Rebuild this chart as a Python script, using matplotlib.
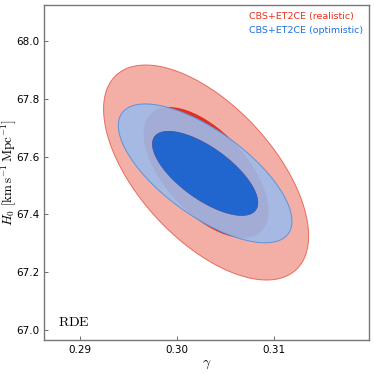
import numpy as np
import matplotlib
matplotlib.use('Agg')
import matplotlib.pyplot as plt

plt.rcParams['mathtext.fontset'] = 'cm'

# Gaussian approximations of the two posteriors (gamma, H0)
labels = ['CBS+ET2CE (realistic)', 'CBS+ET2CE (optimistic)']
centers = [(0.3030, 67.545), (0.3029, 67.542)]
sigmas = [(0.00425, 0.1497), (0.00360, 0.0967)]
corrs = [-0.59, -0.69]

# 68% and 95% levels for 2 parameters (delta chi2)
levels = [0.0, 2.30, 6.18]

inner_cols = ['#e0301e', '#2166cf']
outer_cols = ['#f3aea6', '#9dbbe9']
outer_alpha = [1.0, 0.9]
edges = ['#ea6a5c', '#5b93df']
text_cols = ['#e8301e', '#1f70e0']

xticks = [0.29, 0.30, 0.31]
yticks = [67.0, 67.2, 67.4, 67.6, 67.8, 68.0]

fig = plt.figure(figsize=(3.74, 3.74), dpi=100)
ax = fig.add_axes([0.1176, 0.0909, 0.869, 0.8957])

gx = np.linspace(0.285, 0.321, 700)
gy = np.linspace(66.95, 68.15, 700)
X, Y = np.meshgrid(gx, gy)

for i in range(2):
    cx, cy = centers[i]
    sx, sy = sigmas[i]
    r = corrs[i]
    dx = (X - cx) / sx
    dy = (Y - cy) / sy
    chi2 = (dx**2 - 2 * r * dx * dy + dy**2) / (1 - r**2)
    ax.contourf(X, Y, chi2, levels=levels[1:], colors=[outer_cols[i]],
                alpha=outer_alpha[i], antialiased=True)
    ax.contourf(X, Y, chi2, levels=levels[:2], colors=[inner_cols[i]], antialiased=True)
    ax.contour(X, Y, chi2, levels=[levels[2]], colors=edges[i], linewidths=0.7)

ax.set_xlim(0.28629, 0.31979)
ax.set_ylim(66.965, 68.125)
ax.set_xticks(xticks)
ax.set_xticklabels(['%.2f' % v for v in xticks])
ax.set_yticks(yticks)
ax.set_yticklabels(['%.1f' % v for v in yticks])
ax.tick_params(direction='in', labelsize=7.5, length=3, width=0.6, color='#555555')
for s in ax.spines.values():
    s.set_color('#777777')
    s.set_linewidth(1.0)

ax.set_xlabel(r'$\gamma$', fontsize=10)
ax.set_ylabel(r'$H_0\ [\mathrm{km\,s^{-1}\,Mpc^{-1}}]$', fontsize=9.5)
ax.xaxis.set_label_coords(0.5, -0.05)
ax.yaxis.set_label_coords(-0.08, 0.5)

ax.text(0.631, 0.965, labels[0], color=text_cols[0], fontsize=6.8, transform=ax.transAxes, va='center', ha='left')
ax.text(0.631, 0.923, labels[1], color=text_cols[1], fontsize=6.8, transform=ax.transAxes, va='center', ha='left')
ax.text(0.043, 0.054, r'$\mathrm{RDE}$', fontsize=10, transform=ax.transAxes, va='center', ha='left')

fig.savefig('out.png', dpi=100)
